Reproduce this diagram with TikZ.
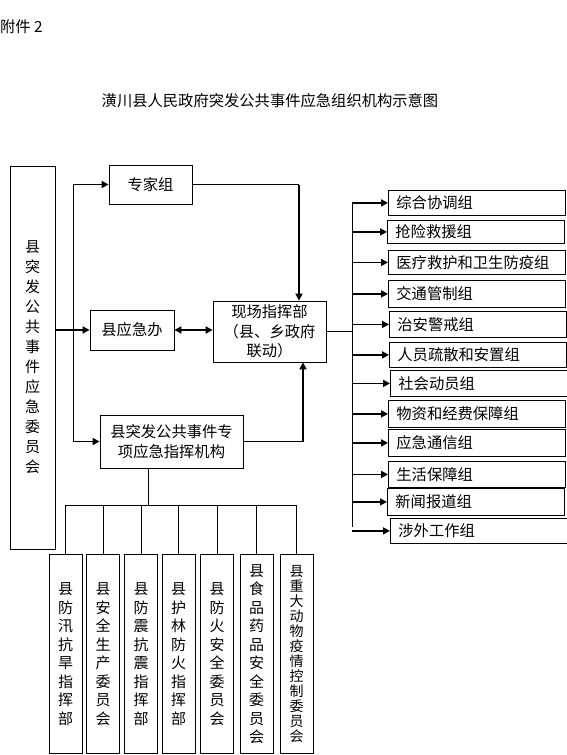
\documentclass[tikz,border=0pt]{standalone}
\usepackage{fontspec}
\setmainfont{Noto Sans CJK SC}
\usetikzlibrary{arrows.meta}

\tikzset{
	kasten/.style={draw, line width=0.8pt, inner sep=0pt, align=center},
	gruppe/.style={draw, line width=0.8pt, inner xsep=8pt, inner ysep=0pt, anchor=north west, text width=161pt, align=left},
	saeule/.style={kasten, anchor=north, minimum width=33pt, minimum height=199pt, font=\fontsize{15}{18.5}\selectfont},
	linie/.style={line width=0.8pt},
	pfeil/.style={line width=1.8pt, -{Triangle[length=7pt,width=7pt]}}
}

\begin{document}
\begin{tikzpicture}[x=1pt, y=-1pt, font=\fontsize{15.3}{19.5}\selectfont]
		\useasboundingbox (0,0) rectangle (567,755);
		
		% Kopf
		\node[anchor=west, inner sep=0pt] (anhang) at (0,27) {附件~2};
		\node[inner sep=0pt] (titel) at (270,101) {潢川县人民政府突发公共事件应急组织机构示意图};
		
		% Mitte
		\node[kasten, minimum width=45pt, minimum height=383pt, font=\fontsize{15}{20}\selectfont] (ausschuss) at (32.5,357.5) {县\\突\\发\\公\\共\\事\\件\\应\\急\\委\\员\\会};
		\node[kasten, minimum width=83pt, minimum height=39pt] (experten) at (150.5,184.5) {专家组};
		\node[kasten, minimum width=84pt, minimum height=40pt] (buero) at (132,330) {县应急办};
		\node[kasten, minimum width=113pt, minimum height=61pt] (vorort) at (269.5,331.5) {现场指挥部\\（县、乡政府\\联动）};
		\node[kasten, minimum width=143pt, minimum height=53pt] (fach) at (171.5,441.5) {县突发公共事件专\\项应急指挥机构};
		
		% Verbindungen links
		\coordinate (links) at (73,0);
		\draw[linie] (experten.west -| links) -- (fach.west -| links);
		\draw[pfeil] (experten.west -| links) -- (experten.west);
		\draw[pfeil] (fach.west -| links) -- (fach.west);
		\draw[pfeil] (ausschuss.east |- buero.west) -- (buero.west);
		\draw[line width=1.8pt, {Triangle[length=7pt,width=7pt]}-{Triangle[length=7pt,width=7pt]}] (buero.east) -- (buero.east -| vorort.west);
		
		% Zum Vor-Ort-Stab
		\coordinate (oben) at (299,0);
		\coordinate (unten) at (303,0);
		\draw[linie] (experten.east) -- (experten.east -| oben);
		\draw[pfeil] (experten.east -| oben) -- (vorort.north -| oben);
		\draw[linie] (fach.east) -- (fach.east -| unten);
		\draw[pfeil] (fach.east -| unten) -- (vorort.south -| unten);
		
		% Arbeitsgruppen rechts
		\coordinate (schiene) at (352,0);
		\foreach \i/\x/\y/\h/\txt in {1/388/190/25/综合协调组, 2/387/220/23/抢险救援组, 3/388/250/24/医疗救护和卫生防疫组, 4/388/280/27/交通管制组, 5/389/311/26/治安警戒组, 6/389/342/25/人员疏散和安置组, 7/390/370/26/社会动员组, 8/388/400/27/物资和经费保障组, 9/388/429/27/应急通信组, 10/388/461/26/生活保障组, 11/387/488/27/新闻报道组, 12/390/518/25/涉外工作组}
		{
			\node[gruppe, minimum height=\h pt] (g\i) at (\x,\y) {\txt};
			\draw[pfeil] (g\i.west -| schiene) -- (g\i.west);
		}
		\draw[linie] (vorort.east) -- (vorort.east -| schiene);
		\draw[linie] (g1.west -| schiene) -- (352,527);
		
		% Fachstäbe unten
		\node[saeule] (s1) at (65.5,554) {县\\防\\汛\\抗\\旱\\指\\挥\\部};
		\node[saeule] (s2) at (103,554) {县\\安\\全\\生\\产\\委\\员\\会};
		\node[saeule] (s3) at (141,554) {县\\防\\震\\抗\\震\\指\\挥\\部};
		\node[saeule] (s4) at (178.5,554) {县\\护\\林\\防\\火\\指\\挥\\部};
		\node[saeule] (s5) at (217,554) {县\\防\\火\\安\\全\\委\\员\\会};
		\node[saeule] (s6) at (256.5,554) {县\\食\\品\\药\\品\\安\\全\\委\\员\\会};
		\node[saeule, font=\fontsize{14}{15}\selectfont] (s7) at (296.5,554) {县\\重\\大\\动\\物\\疫\\情\\控\\制\\委\\员\\会};
		
		% Sammelschiene unten
		\coordinate (abzweig) at (148,505);
		\draw[linie] (fach.south -| abzweig) -- (abzweig);
		\draw[linie] (s1.north |- abzweig) -- (s7.north |- abzweig);
		\foreach \i in {1,...,7}
		\draw[linie] (s\i.north |- abzweig) -- (s\i.north);
	\end{tikzpicture}
\end{document}
